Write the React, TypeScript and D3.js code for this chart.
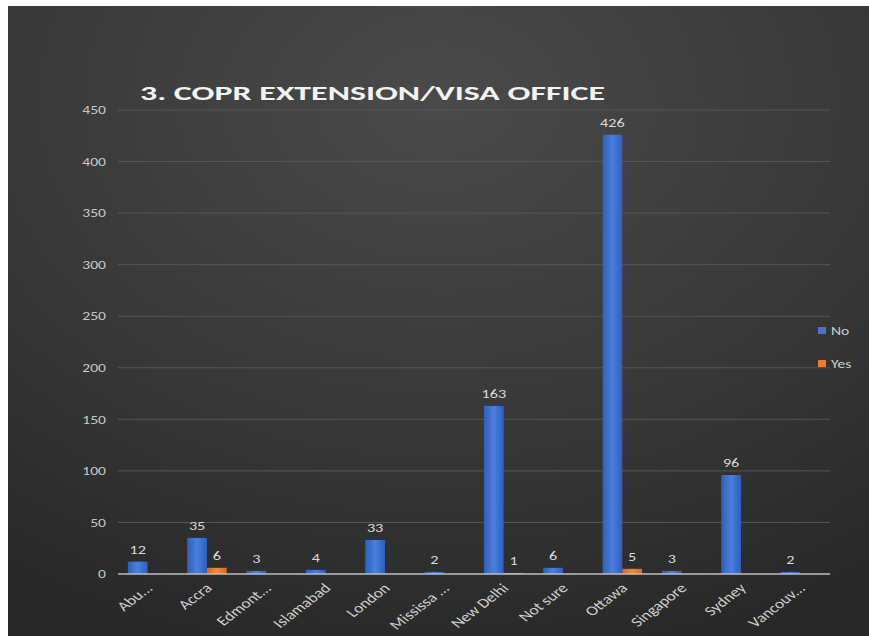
import React from "react";
import * as d3 from "d3";

const categories = ["Abu...", "Accra", "Edmont...", "Islamabad", "London", "Mississa ...", "New Delhi", "Not sure", "Ottawa", "Singapore", "Sydney", "Vancouv..."];
const noValues = [12, 35, 3, 4, 33, 2, 163, 6, 426, 3, 96, 2];
const yesValues: (number | null)[] = [null, 6, null, null, null, null, 1, null, 5, null, null, null];
const seriesNames = ["No", "Yes"];
const yTicks = [0, 50, 100, 150, 200, 250, 300, 350, 400, 450];
const title = "3. COPR EXTENSION/VISA OFFICE";

const W = 869, H = 636;
const plot = { left: 118, right: 830, top: 110, bottom: 574 };
const colors = { No: "#4174d6", Yes: "#ee7d30" };
const SX = 1.3;

function T(props: { x: number; y: number; rot?: number; anchor?: string; size: number; fill: string; dy?: string; weight?: string; children: React.ReactNode }) {
  const { x, y, rot, anchor, size, fill, dy, weight, children } = props;
  return (
    <text
      transform={`translate(${x},${y}) scale(${SX},1)${rot ? ` rotate(${rot})` : ""}`}
      textAnchor={anchor || "start"}
      fontSize={size}
      fill={fill}
      dy={dy}
      fontWeight={weight}
    >
      {children}
    </text>
  );
}

export default function App() {
  const x = d3.scaleBand<string>().domain(categories).range([plot.left, plot.right]).paddingInner(0).paddingOuter(0);
  const x1 = d3.scaleBand<string>().domain(seriesNames).range([0, x.bandwidth()]).paddingInner(0).paddingOuter(0.5);
  const y = d3.scaleLinear().domain([0, 450]).range([plot.bottom, plot.top]);
  const font = "Carlito, Lato, 'Open Sans', 'Liberation Sans', sans-serif";

  const bars: { cat: string; s: string; v: number }[] = [];
  categories.forEach((c, i) => {
    bars.push({ cat: c, s: "No", v: noValues[i] });
    const yv = yesValues[i];
    if (yv !== null) bars.push({ cat: c, s: "Yes", v: yv });
  });

  return (
    <svg width={W} height={H} style={{ position: "absolute", left: 0, top: 0 }} fontFamily={font}>
      <defs>
        <radialGradient id="bg" cx="0.5" cy="0.15" r="0.9">
          <stop offset="0" stopColor="#4a4a4a" />
          <stop offset="0.6" stopColor="#373737" />
          <stop offset="1" stopColor="#282828" />
        </radialGradient>
        <linearGradient id="gNo" x1="0" x2="1" y1="0" y2="0">
          <stop offset="0" stopColor="#2f5fb8" />
          <stop offset="0.5" stopColor="#4a7fe0" />
          <stop offset="1" stopColor="#2f5fb8" />
        </linearGradient>
        <linearGradient id="gYes" x1="0" x2="1" y1="0" y2="0">
          <stop offset="0" stopColor="#d96a22" />
          <stop offset="0.5" stopColor="#f4883a" />
          <stop offset="1" stopColor="#d96a22" />
        </linearGradient>
      </defs>
      <rect x={0} y={0} width={W} height={H} fill="#ffffff" />
      <rect x={8} y={6} width={W - 8} height={H - 6} fill="url(#bg)" />
      <text x={140} y={100} fill="#f2f2f2" fontSize={21} fontWeight="bold" textLength={465} lengthAdjust="spacingAndGlyphs">{title}</text>
      {yTicks.map((t) => (
        <g key={t}>
          {t !== 0 && <line x1={plot.left} x2={plot.right} y1={y(t)} y2={y(t)} stroke="#555555" strokeWidth={1} />}
          <T x={106} y={y(t)} dy="0.35em" anchor="end" fill="#c8c8c8" size={12}>{t}</T>
        </g>
      ))}
      {bars.map((b) => {
        const bx = (x(b.cat) as number) + (x1(b.s) as number);
        const by = y(b.v);
        return (
          <g key={b.cat + b.s}>
            <rect x={bx} y={by} width={x1.bandwidth()} height={plot.bottom - by} fill={b.s === "No" ? "url(#gNo)" : "url(#gYes)"} />
            <T x={bx + x1.bandwidth() / 2} y={by - 8} anchor="middle" fill="#d9d9d9" size={12.5}>{b.v}</T>
          </g>
        );
      })}
      <line x1={plot.left} x2={plot.right} y1={plot.bottom} y2={plot.bottom} stroke="#bfbfbf" strokeWidth={1.5} />
      {categories.map((c) => {
        const cx = (x(c) as number) + x.bandwidth() / 2;
        return (
          <T key={c} x={cx + 6} y={plot.bottom + 15} rot={-45} anchor="end" fill="#cfcfcf" size={13.5}>{c}</T>
        );
      })}
      {seriesNames.map((s, i) => (
        <g key={s} transform={`translate(818,${327 + i * 33})`}>
          <rect x={0} y={0} width={8} height={7} fill={s === "No" ? colors.No : colors.Yes} />
          <T x={13} y={4} dy="0.35em" fill="#cfcfcf" size={12}>{s}</T>
        </g>
      ))}
    </svg>
  );
}
